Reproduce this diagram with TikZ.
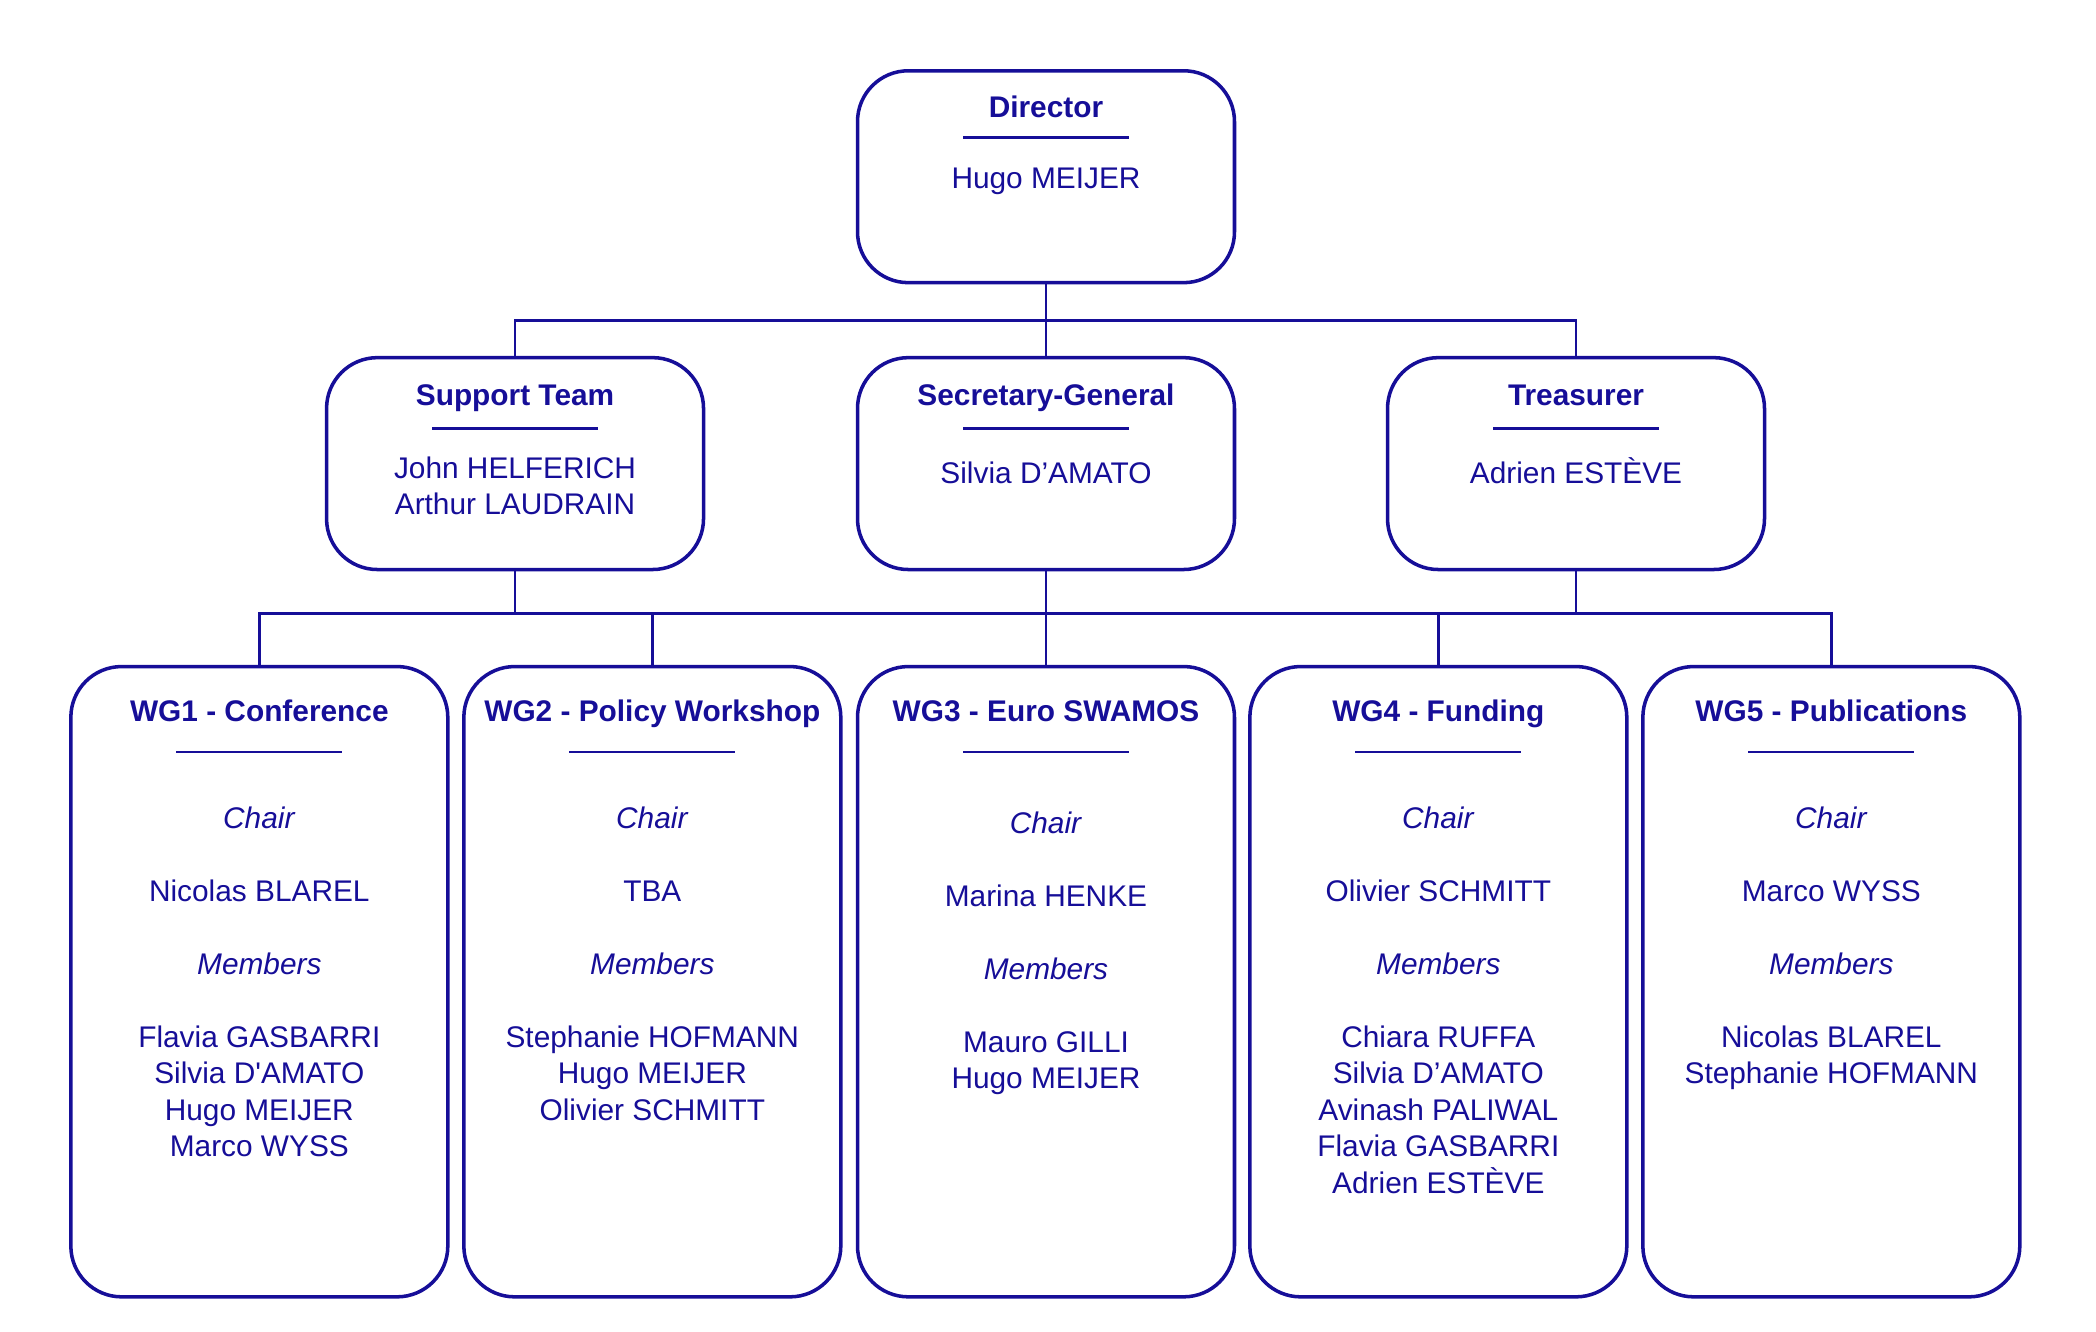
\documentclass[tikz,border=0pt]{standalone}
\usepackage{fontspec}
\setmainfont{Liberation Sans}
\usepackage{xcolor}
\usepackage{tikz}
\definecolor{orgblue}{HTML}{160E98}
\newcommand{\topstrut}{\rule{0pt}{12pt}}
\tikzset{
  unit/.style={draw=orgblue,line width=1.5pt,rounded corners=7.6mm,
    minimum width=56.4mm,inner sep=0pt},
  top unit/.style={unit,minimum height=31.7mm},
  wg unit/.style={unit,minimum height=94.3mm},
  title/.style={font=\fontsize{12.7}{15.55}\selectfont\bfseries,
    text=orgblue,anchor=base,inner sep=0pt},
  names/.style={font=\fontsize{12.7}{15.55}\selectfont,text=orgblue,
    align=center,anchor=north,inner sep=0pt},
  link/.style={draw=orgblue,line width=1.2pt},
  title rule/.style={draw=orgblue,line width=1.2pt}
}

\begin{document}
\begin{tikzpicture}[x=0.2mm,y=-0.2mm]
  \useasboundingbox (0,0) rectangle (1568,996);
  % boxes
  \node[top unit] (dir) at (782.5,132.2) {};
  \node[top unit] (sup) at (385.3,346.8) {};
  \node[top unit] (sec) at (782.5,346.8) {};
  \node[top unit] (tre) at (1179,346.8) {};
  \foreach \i/\x in {1/194,2/488,3/782.5,4/1076,5/1370}
    \node[wg unit] (w\i) at (\x,734.4) {};
  % director
  \node[title] at ([yshift=-7.2mm]dir.north) {Director};
  \draw[title rule] ([xshift=-12.4mm,yshift=-10.3mm]dir.north)
    -- ([xshift=12.4mm,yshift=-10.3mm]dir.north);
  \node[names] at ([yshift=-13.6mm]dir.north) {\topstrut Hugo MEIJER};
  % second row
  \foreach \n/\ttl/\who/\off in {
      sup/Support Team/{John HELFERICH\\Arthur LAUDRAIN}/14.05mm,
      sec/Secretary-General/{Silvia D’AMATO}/14.85mm,
      tre/Treasurer/{Adrien ESTÈVE}/14.85mm} {
    \node[title] at ([yshift=-7.35mm]\n.north) {\ttl};
    \draw[title rule] ([xshift=-12.4mm,yshift=-10.9mm]\n.north)
      -- ([xshift=12.4mm,yshift=-10.9mm]\n.north);
    \node[names] at ([yshift=-\off]\n.north) {\topstrut\who};
  }
  % working groups
  \foreach \i/\ttl/\chair/\memb/\off in {
      1/{WG1 - Conference}/{Nicolas BLAREL}/{Flavia GASBARRI\\Silvia D\textquotesingle AMATO\\Hugo MEIJER\\Marco WYSS}/20.15mm,
      2/{WG2 - Policy Workshop}/{TBA}/{Stephanie HOFMANN\\Hugo MEIJER\\Olivier SCHMITT}/20.15mm,
      3/{WG3 - Euro SWAMOS}/{Marina HENKE}/{Mauro GILLI\\Hugo MEIJER}/20.9mm,
      4/{WG4 - Funding}/{Olivier SCHMITT}/{Chiara RUFFA\\Silvia D’AMATO\\Avinash PALIWAL\\Flavia GASBARRI\\Adrien ESTÈVE}/20.15mm,
      5/{WG5 - Publications}/{Marco WYSS}/{Nicolas BLAREL\\Stephanie HOFMANN}/20.15mm} {
    \node[title] at ([yshift=-8.5mm]w\i.north) {\ttl};
    \draw[title rule] ([xshift=-12.4mm,yshift=-13.05mm]w\i.north)
      -- ([xshift=12.4mm,yshift=-13.05mm]w\i.north);
    \node[names] at ([yshift=-\off]w\i.north)
      {\topstrut\textit{Chair}\\ \\ \chair\\ \\ \textit{Members}\\ \\ \memb};
  }
  % connectors
  \coordinate (topbus) at (782.5,240);
  \coordinate (lowbus) at (782.5,458.8);
  \draw[link] (dir.south) -- (topbus);
  \draw[link] (sup.north) |- (topbus) -| (tre.north);
  \draw[link] (topbus) -- (sec.north);
  \draw[link] (w1.north) |- (lowbus) -| (w5.north);
  \foreach \n in {sup,sec,tre}
    \draw[link] (\n.south) -- (\n.south |- lowbus);
  \foreach \i in {2,3,4}
    \draw[link] (w\i.north) -- (w\i.north |- lowbus);
\end{tikzpicture}
\end{document}
